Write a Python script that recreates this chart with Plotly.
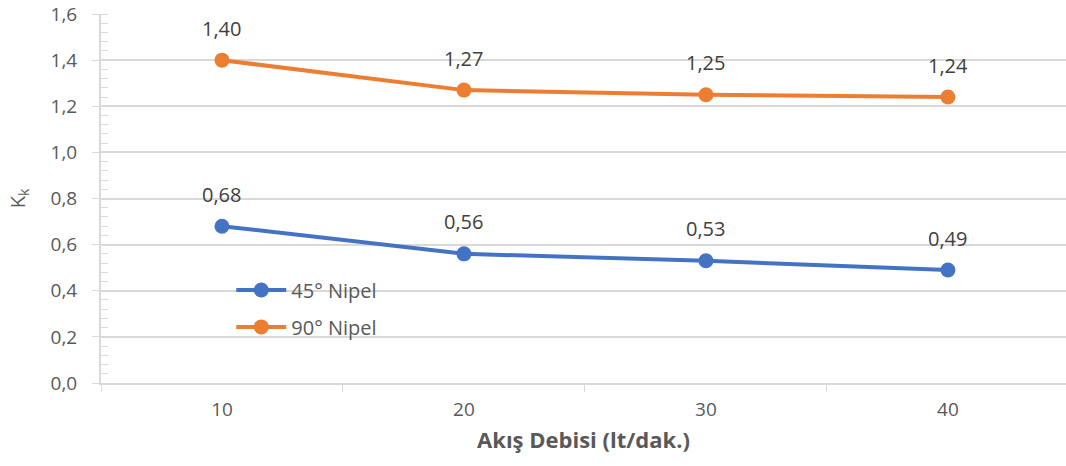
import plotly.graph_objects as go

# data
flow_rates = ["10", "20", "30", "40"]
k_45 = [0.68, 0.56, 0.53, 0.49]
k_90 = [1.40, 1.27, 1.25, 1.24]
series_names = ["45° Nipel", "90° Nipel"]

blue = "#4472C4"
orange = "#ED7D31"
grey_line = "#D9D9D9"
font_name = "Open Sans, Segoe UI, sans-serif"

fig = go.Figure()

for name, vals, col, leg in [(series_names[0], k_45, blue, "legend2"),
                             (series_names[1], k_90, orange, "legend3")]:
    fig.add_trace(go.Scatter(
        x=flow_rates, y=vals, name=name, mode="lines+markers",
        line=dict(color=col, width=4),
        marker=dict(color=col, size=15),
        legend=leg, showlegend=True,
    ))
    # data labels sit well above each point, like excel
    for i, yv in enumerate(vals):
        fig.add_annotation(
            x=i, y=yv, xref="x", yref="y",
            text=f"{yv:.2f}".replace(".", ","),
            showarrow=False, yshift=32,
            font=dict(size=20, color="#404040", family=font_name),
        )

leg_common = dict(xanchor="left", yanchor="middle", bgcolor="rgba(0,0,0,0)",
                  itemwidth=50, font=dict(size=20, color="#595959"))

fig.update_layout(
    width=1066, height=466,
    paper_bgcolor="white", plot_bgcolor="white",
    margin=dict(l=101, r=0, t=14, b=83),
    separators=",.",
    showlegend=True,
    font=dict(family=font_name, color="#595959", size=18),
    legend=dict(visible=False),
    legend2=dict(x=0.135, y=0.252, **leg_common),
    legend3=dict(x=0.135, y=0.152, **leg_common),
)

fig.update_xaxes(
    type="category", range=[-0.5, 3.488], automargin=False,
    tickson="boundaries", ticks="outside", ticklen=7, tickcolor=grey_line,
    showline=True, linecolor=grey_line, linewidth=2,
    showgrid=False, zeroline=False,
    ticklabelstandoff=8,
    tickfont=dict(size=19, color="#595959"),
    title=dict(text="<b>Akış Debisi (lt/dak.)</b>", standoff=12,
               font=dict(size=22, color="#595959")),
)
fig.update_yaxes(
    range=[0, 1.6001], tickvals=[0, 0.2, 0.4, 0.6, 0.8, 1.0, 1.2, 1.4, 1.6],
    tickformat=".1f", automargin=False,
    ticks="outside", ticklen=7, tickcolor=grey_line,
    showline=True, linecolor=grey_line, linewidth=2,
    showgrid=True, gridcolor=grey_line, gridwidth=1.5,
    zeroline=False,
    ticklabelstandoff=11,
    minor=dict(dtick=0.04, ticks="inside", ticklen=7, tickcolor=grey_line, showgrid=False),
    tickfont=dict(size=19, color="#595959"),
    title=dict(text="K<sub>k</sub>", standoff=20,
               font=dict(size=20, color="#595959")),
)

# drop the default page margin so the figure sits at the window's corner
fig.write_html("out.html", config={"displayModeBar": False},
               post_script="document.body.style.margin='0';document.body.style.overflow='hidden';")
